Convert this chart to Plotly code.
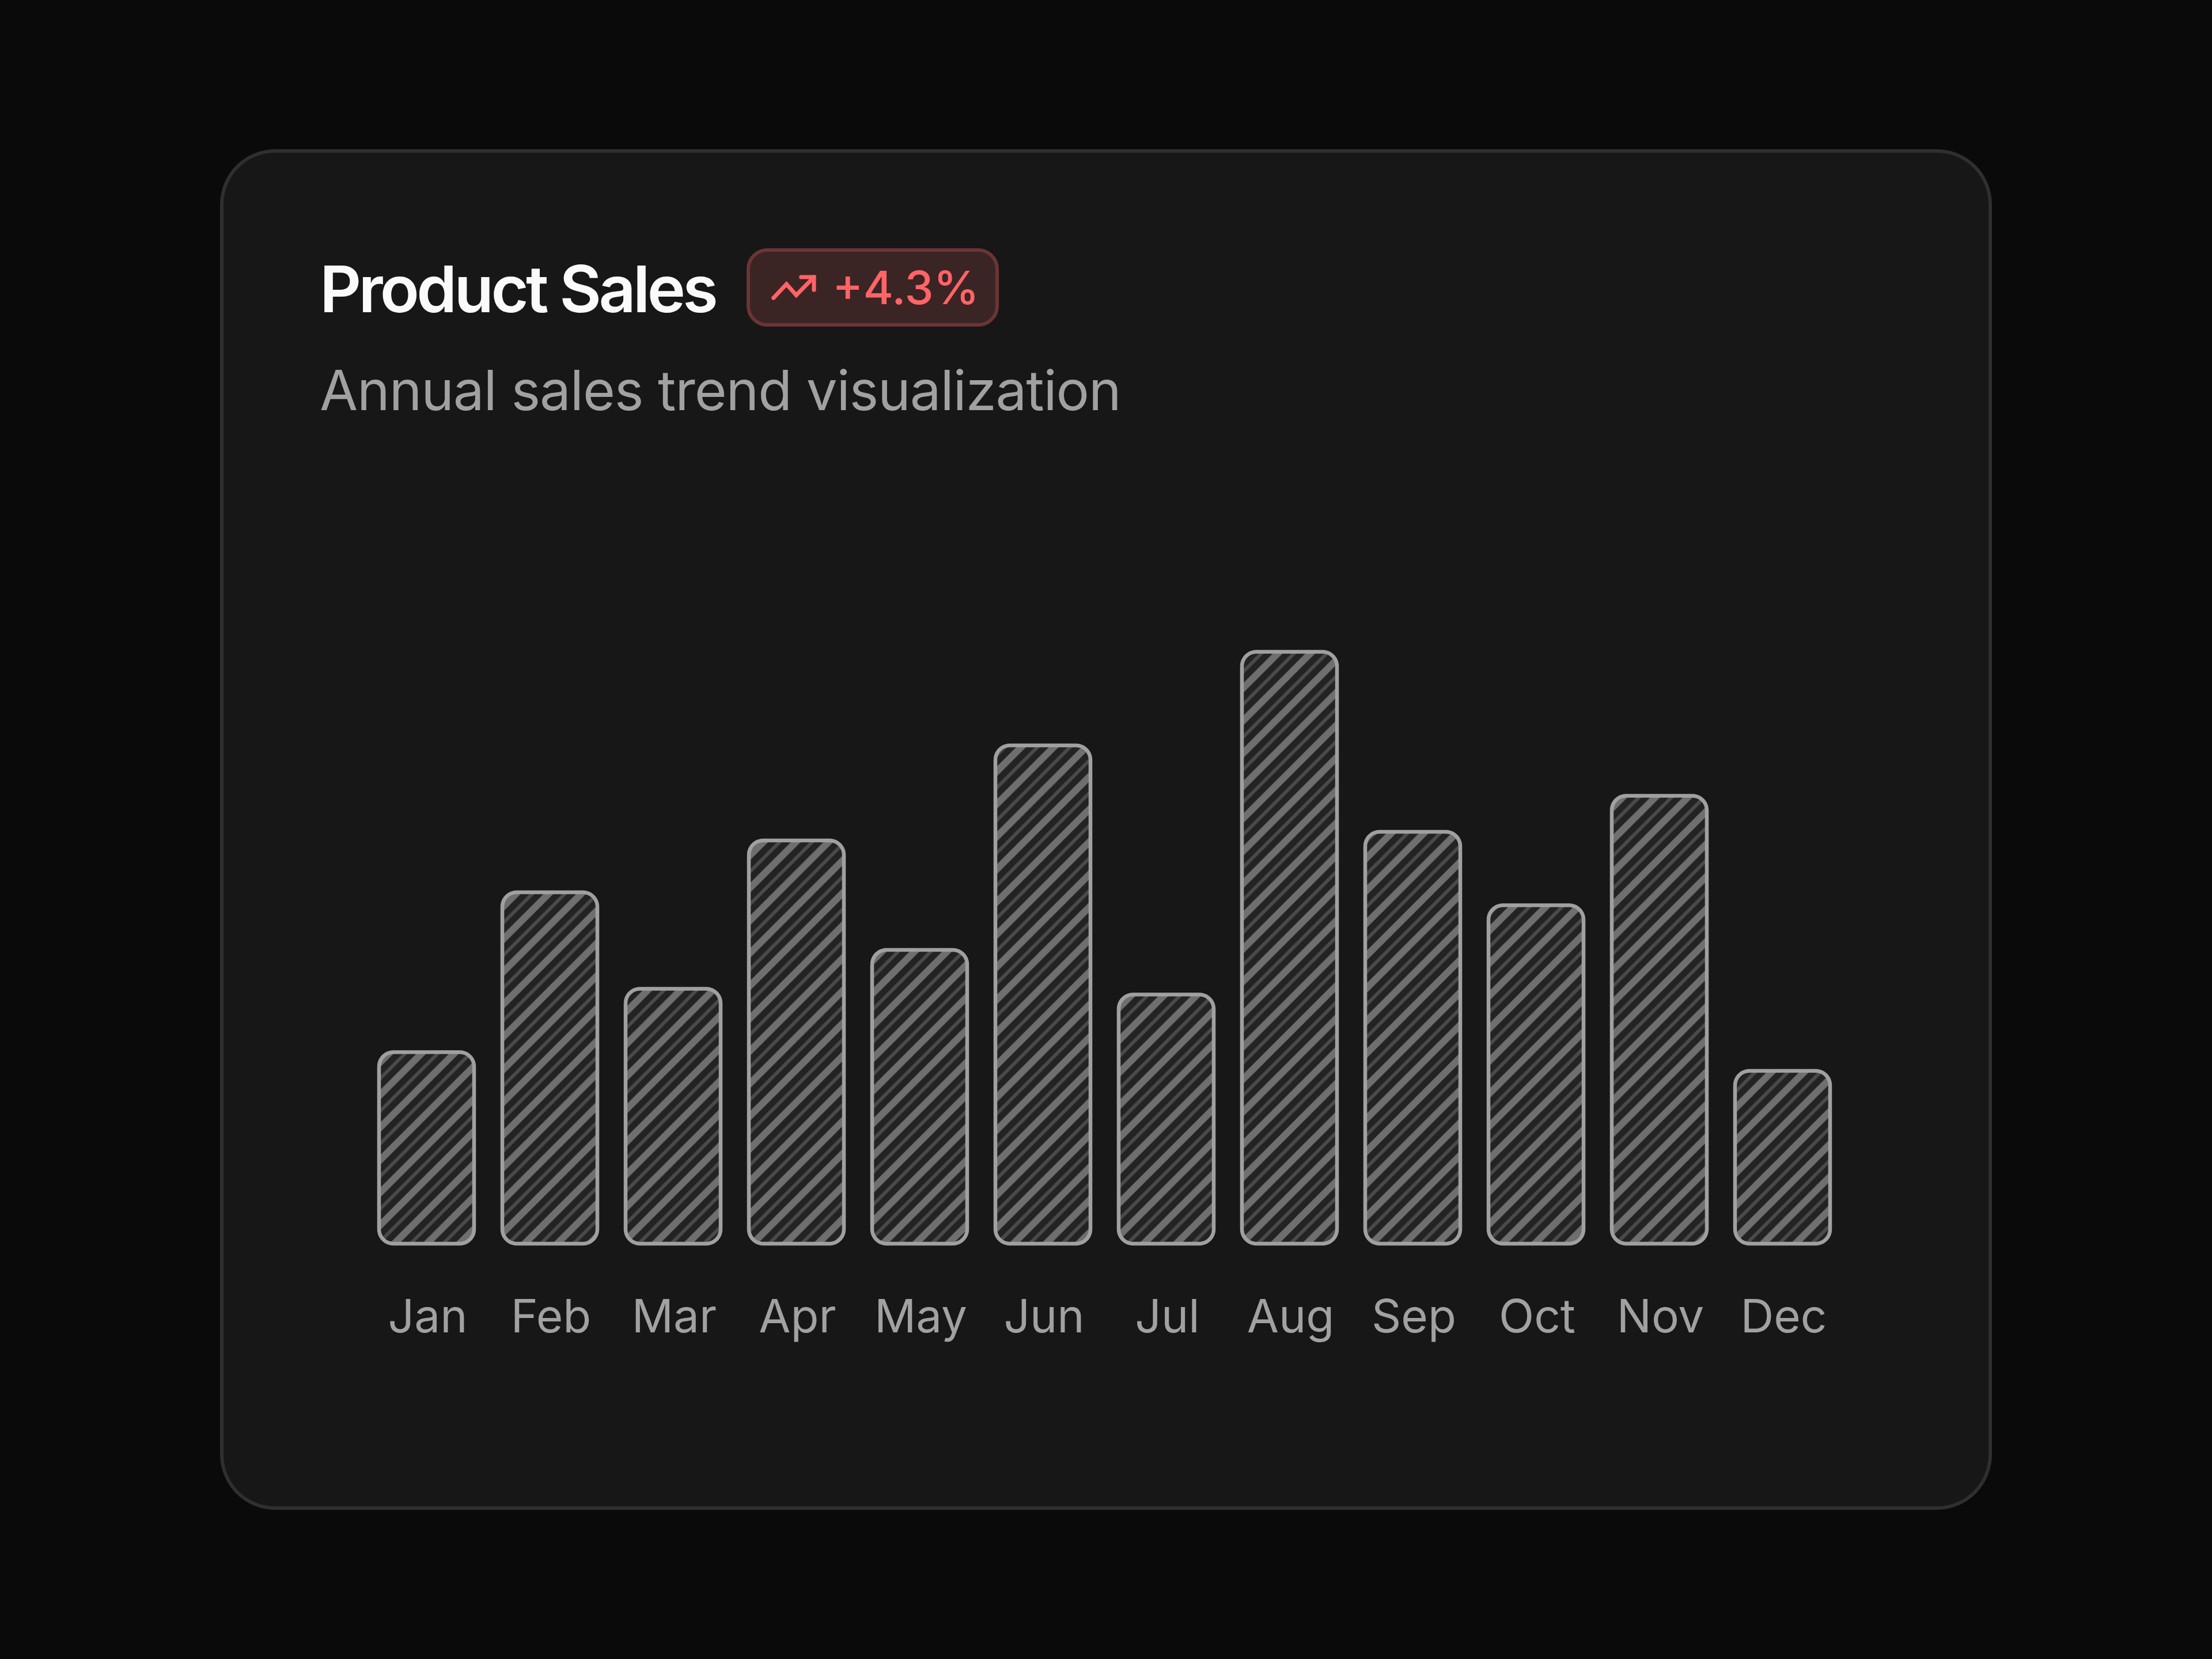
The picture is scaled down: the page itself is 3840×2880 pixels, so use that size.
import numpy as np
import plotly.graph_objects as go

months = ["Jan", "Feb", "Mar", "Apr", "May", "Jun", "Jul", "Aug", "Sep", "Oct", "Nov", "Dec"]
sales = [133, 244, 177, 280, 204, 346, 173, 411, 286, 235, 311, 120]

W, H = 3840, 2880
LEFT = 15         # left margin, moves the hatch phase
STEP = 214        # px between bars
UNIT = 2.5        # px per sales unit
BASE_Y = 2159     # px of sales = 0
FIRST_X = 740.5   # px of Jan
BAR_W = 165 / STEP
RADIUS = 25
HATCH = 40        # plotly draws this as size*sqrt(2) along x


def fx(px):
    return (px - LEFT) / (W - LEFT)


def fy(py):
    return 1 - py / H


def rounded_rect(x0, y0, x1, y1, r):
    # rounded box in paper coords, for the card and the badge
    c = r * 0.4477
    pts = [
        f"M{fx(x0 + r)},{fy(y0)}", f"L{fx(x1 - r)},{fy(y0)}",
        f"C{fx(x1 - c)},{fy(y0)} {fx(x1)},{fy(y0 + c)} {fx(x1)},{fy(y0 + r)}",
        f"L{fx(x1)},{fy(y1 - r)}",
        f"C{fx(x1)},{fy(y1 - c)} {fx(x1 - c)},{fy(y1)} {fx(x1 - r)},{fy(y1)}",
        f"L{fx(x0 + r)},{fy(y1)}",
        f"C{fx(x0 + c)},{fy(y1)} {fx(x0)},{fy(y1 - c)} {fx(x0)},{fy(y1 - r)}",
        f"L{fx(x0)},{fy(y0 + r)}",
        f"C{fx(x0)},{fy(y0 + c)} {fx(x0 + c)},{fy(y0)} {fx(x0 + r)},{fy(y0)} Z",
    ]
    return "".join(pts)


def bar_outlines(values):
    # plotly bars only round their top corners, so walk the outline by hand
    rx, ry = RADIUS / STEP, RADIUS / UNIT
    t = np.linspace(0, np.pi / 2, 12)
    xs, ys = [], []
    for i, v in enumerate(values):
        x0, x1 = i - BAR_W / 2, i + BAR_W / 2
        xs += list(x0 + rx - rx * np.cos(t)) + list(x1 - rx + rx * np.sin(t))
        ys += list(v - ry + ry * np.sin(t)) + list(v - ry + ry * np.cos(t))
        xs += list(x1 - rx + rx * np.cos(t)) + list(x0 + rx - rx * np.sin(t))
        ys += list(ry - ry * np.sin(t)) + list(ry - ry * np.cos(t))
        xs += [xs[-48], None]
        ys += [ys[-48], None]
    return xs, ys


xs, ys = bar_outlines(sales)

fig = go.Figure()
# half-size hatch under the wide one gives the thin stripes between them
fig.add_trace(go.Scatter(
    x=xs, y=ys, mode="lines", fill="toself", hoverinfo="skip",
    line=dict(width=0, color="rgba(0,0,0,0)", simplify=False),
    fillcolor="#232323",
    fillpattern=dict(shape="/", size=HATCH / 2, solidity=6 / (HATCH / 2),
                     fgcolor="#4a4a4a", bgcolor="#232323", fgopacity=1),
))
fig.add_trace(go.Scatter(
    x=xs, y=ys, mode="lines", fill="toself", hoverinfo="skip",
    line=dict(width=6.5, color="#a0a0a0", simplify=False),
    fillcolor="rgba(0,0,0,0)",
    fillpattern=dict(shape="/", size=HATCH, solidity=12 / HATCH,
                     fgcolor="#6f6f6f", bgcolor="rgba(0,0,0,0)", fgopacity=1),
))

shapes = [
    dict(type="path", xref="paper", yref="paper", layer="below",
         path=rounded_rect(385, 262, 3455, 2618, 93),
         fillcolor="#171717", line=dict(color="#2f2f2f", width=6)),
    dict(type="path", xref="paper", yref="paper", layer="below",
         path=rounded_rect(1299, 434, 1731, 564, 33),
         fillcolor="#3b2424", line=dict(color="#6b3535", width=6)),
]

# trending-up icon
icon_x = [1342.7, 1365.3, 1382.3, 1413.0]
icon_y = [517.3, 493.3, 512.3, 481.0]
arrow_x = [1390.7, 1413.0, 1413.0]
arrow_y = [481.0, 481.0, 503.3]
for px_, py_ in ((icon_x, icon_y), (arrow_x, arrow_y)):
    path = "M" + "L".join(f"{fx(a)},{fy(b)}" for a, b in zip(px_, py_))
    shapes.append(dict(type="path", xref="paper", yref="paper", path=path,
                       line=dict(color="#ff6467", width=7)))
    for a, b in zip(px_, py_):
        shapes.append(dict(type="circle", xref="paper", yref="paper",
                           x0=fx(a - 3.5), x1=fx(a + 3.5), y0=fy(b + 3.5), y1=fy(b - 3.5),
                           fillcolor="#ff6467", line=dict(width=0)))

annotations = [
    dict(text='<span style="letter-spacing:-4.7px">Product Sales</span>',
         x=fx(554.5), y=fy(569), font=dict(family="Inter", size=112, color="#fafafa", weight=600)),
    dict(text='<span style="letter-spacing:-1.15px">Annual sales trend visualization</span>',
         x=fx(554.5), y=fy(735), font=dict(family="Inter", size=96, color="#a1a1a1")),
    dict(text="+4.3%",
         x=fx(1445), y=fy(547), font=dict(family="Inter", size=80, color="#ff6467", weight=500)),
]
for a in annotations:
    a.update(xref="paper", yref="paper", xanchor="left", yanchor="bottom",
             showarrow=False, borderpad=0, borderwidth=0)

fig.update_layout(
    width=W, height=H,
    margin=dict(l=LEFT, r=0, t=0, b=0),
    paper_bgcolor="#0a0a0a",
    plot_bgcolor="rgba(0,0,0,0)",
    showlegend=False,
    shapes=shapes,
    annotations=annotations,
    xaxis=dict(
        range=[(LEFT - FIRST_X) / STEP, (W - FIRST_X) / STEP],
        domain=[0, 1],
        anchor="free",
        position=fy(2232),
        tickmode="array",
        tickvals=list(range(len(months))),
        ticktext=months,
        ticklabelshift=2,
        tickfont=dict(family="Inter", size=80, color="#a1a1a1"),
        ticks="",
        showgrid=False,
        zeroline=False,
        showline=False,
    ),
    yaxis=dict(
        range=[(BASE_Y - H) / UNIT, BASE_Y / UNIT],
        domain=[0, 1],
        visible=False,
    ),
)

# the default page keeps an 8px body margin
fig.write_html("out.html", config={"displayModeBar": False},
               post_script="document.body.style.margin='0';")
